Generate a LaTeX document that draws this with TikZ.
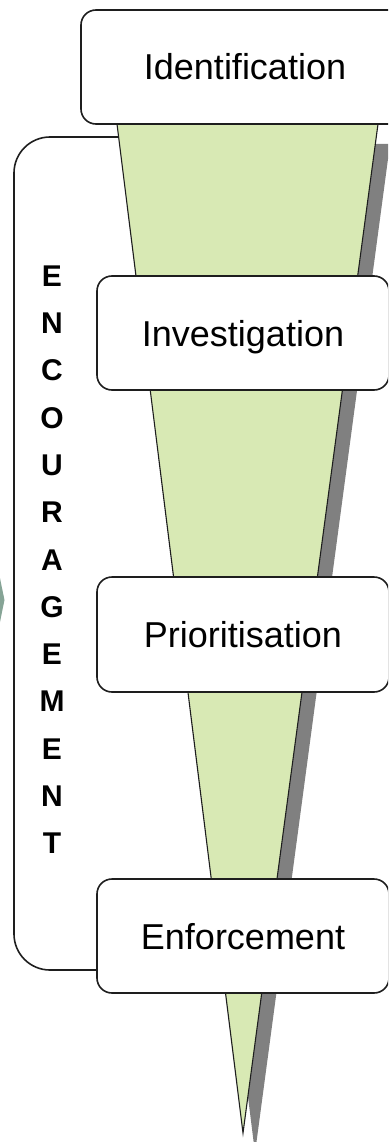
\documentclass[tikz,border=0pt]{standalone}
\usepackage{fontspec}
\setmainfont{Liberation Sans}
\definecolor{funnelgreen}{HTML}{D8E9B4}
\definecolor{shadowgray}{HTML}{808080}
\definecolor{edgecol}{HTML}{1E1E1E}
\definecolor{chevcol}{HTML}{86A496}
\begin{document}
\begin{tikzpicture}[x=1pt,y=-1pt,
  stagebox/.style={draw=edgecol, line width=1.6pt, rounded corners=15pt, fill=white,
    font=\fontsize{36}{40}\selectfont, inner sep=0pt, text height=26pt, text depth=0pt},
  letterlbl/.style={font=\bfseries\fontsize{30}{32}\selectfont, inner sep=0pt,
    text height=21.5pt, text depth=0pt},
  bracketbox/.style={draw=edgecol, line width=1.6pt, rounded corners=36pt},
  funnelshape/.style={fill=funnelgreen, draw=edgecol, line width=1.1pt, line join=miter},
  shadowshape/.style={fill=shadowgray}]
\clip (0,0) rectangle (388,1142);
\fill[white] (0,0) rectangle (388,1142);
% partial chevron at the left edge
\fill[chevcol] (0,578) -- (2,588) -- (4.5,600) -- (2,612) -- (0,622) -- cycle;
% encouragement bracket
\draw[bracketbox] (14,137) rectangle (240,970);
% funnel shadow and funnel
\fill[shadowshape] (129,144) -- (390,144) -- (255,1153) -- cycle;
\draw[funnelshape] (117,124) -- (378,124) -- (243,1133) -- cycle;
% stage boxes
\node[stagebox, minimum width=328pt, minimum height=114pt] (ident) at (245,67) {Identification};
\node[stagebox, minimum width=292pt, minimum height=114pt] (invest) at (243,333) {Investigation};
\node[stagebox, minimum width=292pt, minimum height=115pt] (prior) at (243,634.5) {Prioritisation};
\node[stagebox, minimum width=292pt, minimum height=114pt] (enforce) at (243,936) {Enforcement};
% vertical word
\foreach \l [count=\i from 0] in {E,N,C,O,U,R,A,G,E,M,E,N,T}
  \node[letterlbl] (L\i) at (52,275.5+47.3*\i) {\l};
\end{tikzpicture}
\end{document}
